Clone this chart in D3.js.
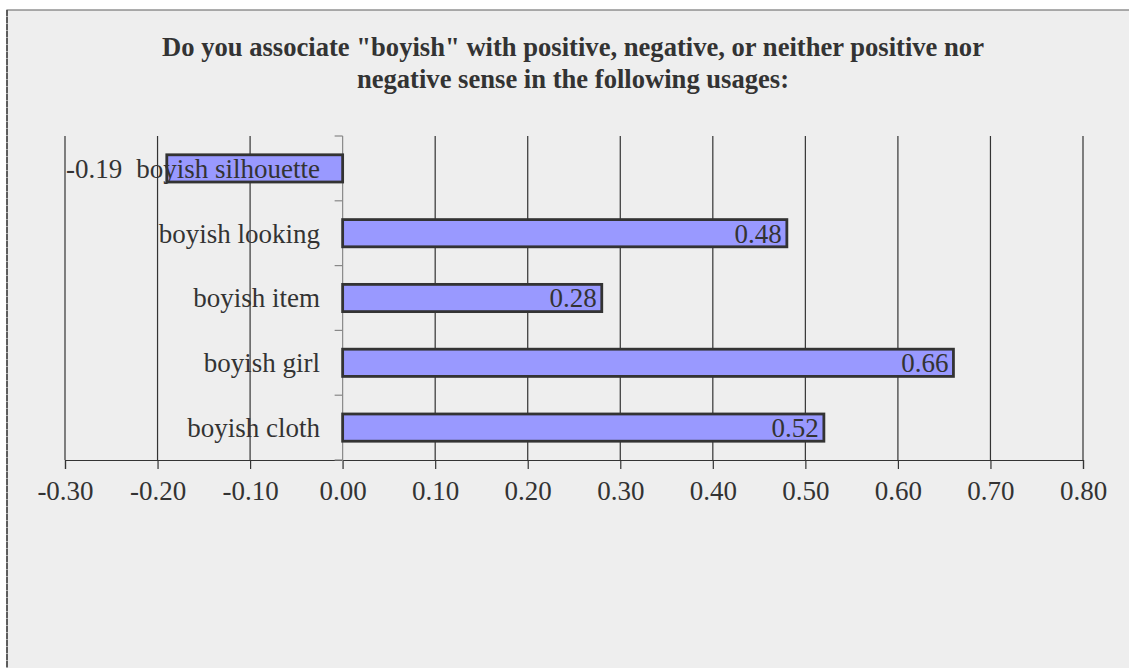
<!DOCTYPE html>
<html><head><meta charset="utf-8">
<script src="https://cdn.jsdelivr.net/npm/d3@7"></script>
<style>html,body{margin:0;padding:0;background:#fff;overflow:hidden}</style>
</head><body>
<svg id="chart" width="1129" height="668"></svg>
<script>
const categories = ["boyish silhouette","boyish looking","boyish item","boyish girl","boyish cloth"];
const values = [-0.19, 0.48, 0.28, 0.66, 0.52];
const tickValues = [-0.3,-0.2,-0.1,0,0.1,0.2,0.3,0.4,0.5,0.6,0.7,0.8];
const titleLines = ['Do you associate "boyish" with positive, negative, or neither positive nor','negative sense in the following usages:'];

const svg = d3.select("#chart");
const serif = "'Liberation Serif','Times New Roman',serif";
// chart area background
svg.append("rect").attr("x",7).attr("y",10).attr("width",1140).attr("height",680)
  .attr("fill","#eeeeee").attr("stroke","#777").attr("stroke-width",1.2);
svg.append("line").attr("x1",7).attr("x2",7).attr("y1",10).attr("y2",668)
  .attr("stroke","#444").attr("stroke-width",1.5).attr("stroke-dasharray","6,1");

const x = d3.scaleLinear().domain([-0.3,0.8]).range([65,1083]);
const y = d3.scaleBand().domain(categories).range([136,460]).paddingInner(0.58).paddingOuter(0.29);
const yb = d3.scaleBand().domain(categories).range([136,460]);

// title
svg.append("g").selectAll("text").data(titleLines).join("text")
  .attr("x",573).attr("y",(d,i)=>56+i*32).attr("text-anchor","middle")
  .attr("font-family",serif).attr("font-weight","bold").attr("font-size",26.6).attr("fill","#333")
  .text(d=>d);

// gridlines + x axis
const xAxis = d3.axisBottom(x).tickValues(tickValues).tickSize(9).tickFormat(d3.format(".2f"));
const gx = svg.append("g").attr("transform","translate(0,460)").call(xAxis);
gx.select(".domain").attr("stroke","#333").attr("stroke-width",1.2);
gx.selectAll(".tick line").attr("stroke","#333").attr("stroke-width",1.2);
gx.selectAll(".tick text").attr("font-family",serif).attr("font-size",27).attr("fill","#333").attr("dy","1.05em")
  .text(d=>d3.format(".2f")(d).replace("−","-"));
svg.append("g").selectAll("line").data(tickValues.filter(d=>d!==0)).join("line")
  .attr("x1",d=>x(d)).attr("x2",d=>x(d)).attr("y1",136).attr("y2",460)
  .attr("stroke","#333").attr("stroke-width",1.2);

// y axis at zero
svg.append("line").attr("x1",x(0)).attr("x2",x(0)).attr("y1",136).attr("y2",469)
  .attr("stroke","#888").attr("stroke-width",1.2);
const bounds = categories.map(c=>yb(c)).concat([460]);
svg.append("g").selectAll("line").data(bounds).join("line")
  .attr("x1",x(0)-8).attr("x2",x(0)).attr("y1",d=>d).attr("y2",d=>d)
  .attr("stroke","#888").attr("stroke-width",1.2);

// bars
const data = categories.map((c,i)=>({c,v:values[i]}));
svg.append("g").selectAll("rect").data(data).join("rect")
  .attr("x",d=>x(Math.min(0,d.v))).attr("width",d=>Math.abs(x(d.v)-x(0)))
  .attr("y",d=>y(d.c)).attr("height",y.bandwidth())
  .attr("fill","#9999ff").attr("stroke","#333").attr("stroke-width",2.8);

// category labels
svg.append("g").selectAll("text").data(categories).join("text")
  .attr("x",320).attr("y",d=>yb(d)+yb.bandwidth()/2).attr("dy","0.35em")
  .attr("text-anchor","end").attr("font-family",serif).attr("font-size",27).attr("fill","#333")
  .text(d=>d);

// value labels
svg.append("g").selectAll("text").data(data).join("text")
  .attr("x",d=>d.v<0 ? x(-0.3)+1 : x(d.v)-5)
  .attr("y",d=>yb(d.c)+yb.bandwidth()/2).attr("dy","0.35em")
  .attr("text-anchor",d=>d.v<0?"start":"end")
  .attr("font-family",serif).attr("font-size",27).attr("fill","#333")
  .text(d=>d3.format(".2f")(d.v).replace("−","-"));
</script>
</body></html>
